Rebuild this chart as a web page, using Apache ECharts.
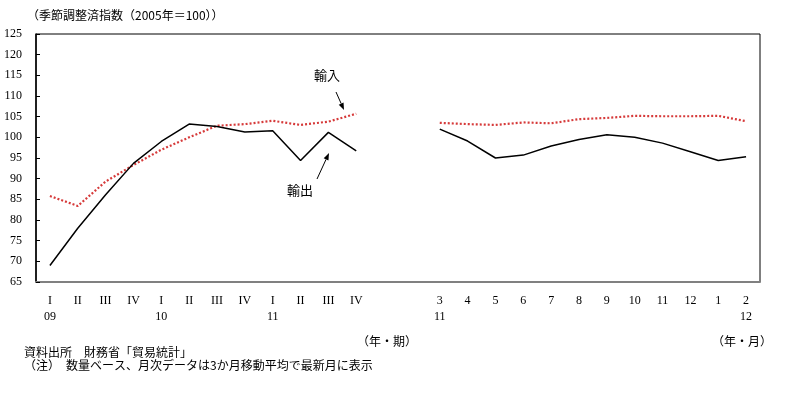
<!DOCTYPE html>
<html>
<head>
<meta charset="utf-8">
<script src="https://cdn.jsdelivr.net/npm/echarts@6/dist/echarts.min.js"></script>
<style>
html,body{margin:0;padding:0;background:#fff;}
#c{width:800px;height:396px;}
</style>
</head>
<body>
<div id="c"></div>
<script>
// Categories: quarterly (2009 I – 2011 IV), two empty gap slots, monthly (2011/3 – 2012/2)
const categories = ['I\n09','II','III','IV','I\n10','II','III','IV','I\n11','II','III','IV','','','3\n11','4','5','6','7','8','9','10','11','12','1','2\n12'];
// 輸出 (exports), seasonally adjusted index 2005=100
const exportsIdx = [69.0, 78.0, 86.1, 93.7, 99.0, 103.2, 102.6, 101.3, 101.6, 94.4, 101.2, 96.7, null, null, 102.0, 99.1, 95.0, 95.7, 97.9, 99.5, 100.6, 100.0, 98.6, 96.5, 94.4, 95.3];
// 輸入 (imports)
const importsIdx = [85.8, 83.4, 89.3, 93.3, 97.0, 100.0, 102.8, 103.2, 104.0, 103.0, 103.8, 105.7, null, null, 103.5, 103.2, 103.0, 103.6, 103.4, 104.4, 104.7, 105.2, 105.1, 105.1, 105.2, 103.9];
const yTicks = {min: 65, max: 125, interval: 5};

const serif = '"Liberation Serif", "DejaVu Serif", serif';
const gothic = '"Noto Sans CJK JP", "Noto Sans", sans-serif';

const chart = echarts.init(document.getElementById('c'), null, {renderer: 'canvas'});

function arrow(x1, y1, x2, y2) {
  const ang = Math.atan2(y2 - y1, x2 - x1);
  const L = 7, W = 2.6;
  const bx = x2 - L * Math.cos(ang), by = y2 - L * Math.sin(ang);
  const px = -Math.sin(ang) * W, py = Math.cos(ang) * W;
  return [
    {type: 'line', shape: {x1: x1, y1: y1, x2: bx, y2: by}, style: {stroke: '#000', lineWidth: 1}},
    {type: 'polygon', shape: {points: [[x2, y2], [bx + px, by + py], [bx - px, by - py]]}, style: {fill: '#000'}}
  ];
}

const textStyleJP = {fill: '#000', font: '12px ' + gothic};

chart.setOption({
  animation: false,
  backgroundColor: '#fff',
  grid: {left: 36, right: 40, top: 34, bottom: 114, containLabel: false, outerBoundsMode: 'none',
         show: true, borderColor: '#000', borderWidth: 1, backgroundColor: 'transparent'},
  xAxis: {
    type: 'category',
    data: categories,
    boundaryGap: true,
    axisLine: {show: true, lineStyle: {color: '#808080', width: 2}},
    axisTick: {show: false},
    axisLabel: {interval: 0, color: '#000', fontFamily: serif, fontSize: 12, lineHeight: 16, margin: 11, verticalAlign: 'top'},
    splitLine: {show: false}
  },
  yAxis: {
    type: 'value',
    min: yTicks.min, max: yTicks.max, interval: yTicks.interval,
    axisLine: {show: true, lineStyle: {color: '#000', width: 1.5}},
    axisTick: {show: true, inside: true, length: 4, lineStyle: {color: '#000', width: 1}},
    axisLabel: {color: '#000', fontFamily: serif, fontSize: 12, margin: 14, align: 'right'},
    splitLine: {show: false}
  },
  series: [
    {
      name: '輸出', type: 'line', data: exportsIdx, symbol: 'none', connectNulls: false,
      lineStyle: {color: '#000', width: 1.5}, z: 3
    },
    {
      name: '輸入', type: 'line', data: importsIdx, symbol: 'none', connectNulls: false,
      lineStyle: {color: '#d63a3a', width: 2.2, type: [2, 2]}, z: 2
    }
  ],
  graphic: [
    {type: 'text', left: 27, top: 9, style: Object.assign({text: '（季節調整済指数（2005年＝100））'}, textStyleJP)},
    {type: 'text', left: 357, top: 335, style: Object.assign({text: '（年・期）'}, textStyleJP)},
    {type: 'text', left: 712, top: 335, style: Object.assign({text: '（年・月）'}, textStyleJP)},
    {type: 'text', left: 24, top: 346, style: Object.assign({text: '資料出所　財務省「貿易統計」'}, textStyleJP)},
    {type: 'text', left: 24, top: 359, style: Object.assign({text: '（注）　数量ベース、月次データは3か月移動平均で最新月に表示'}, textStyleJP)},
    {type: 'text', x: 327, y: 75, style: {text: '輸入', fill: '#000', font: '13px ' + gothic, align: 'center', verticalAlign: 'middle'}},
    {type: 'text', x: 300, y: 190, style: {text: '輸出', fill: '#000', font: '13px ' + gothic, align: 'center', verticalAlign: 'middle'}},
    {type: 'group', children: arrow(336, 92, 344, 110)},
    {type: 'group', children: arrow(317, 179, 329, 153)}
  ]
});
</script>
</body>
</html>
